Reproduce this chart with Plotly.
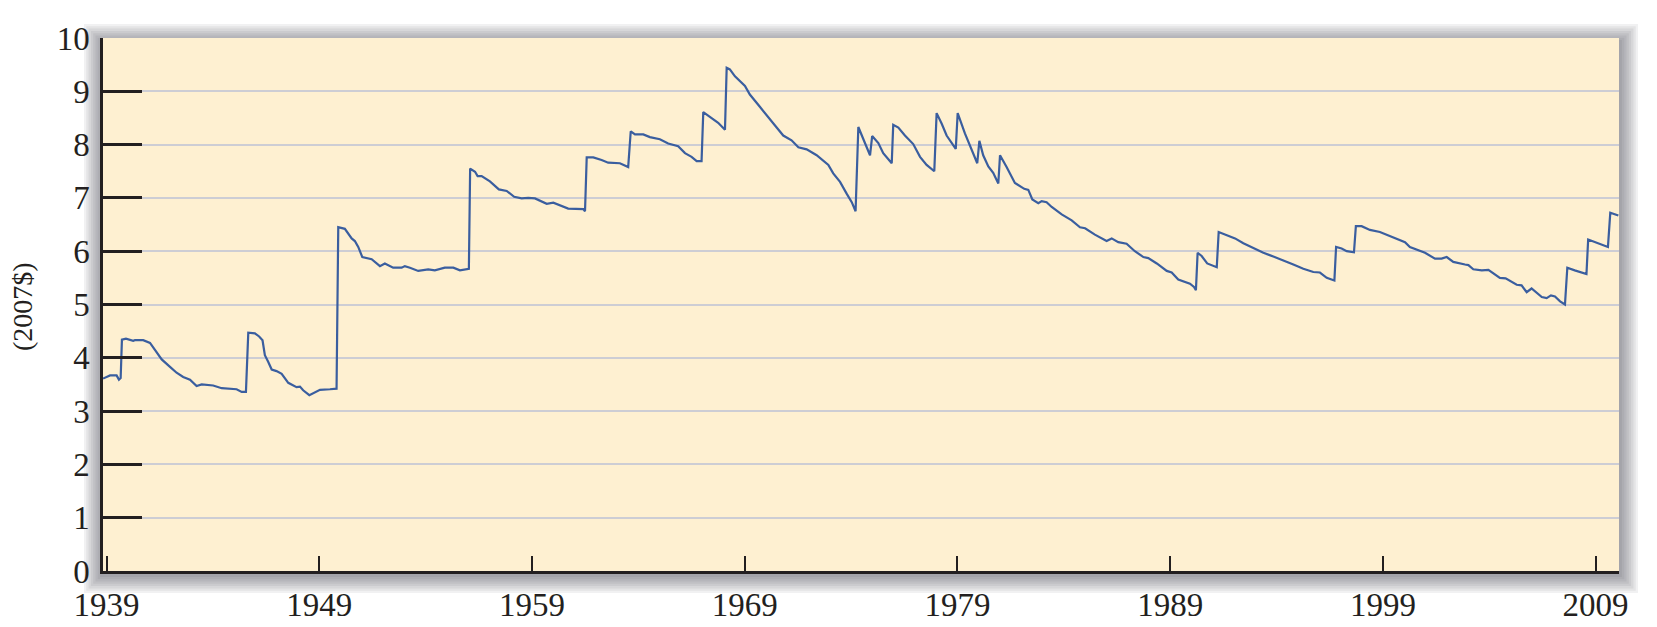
import plotly.graph_objects as go

years = [
    1938.83, 1939.16, 1939.47, 1939.58, 1939.66, 1939.72, 1939.91, 1940.25, 1940.33, 1940.72,
    1941.04, 1941.27, 1941.59, 1941.98, 1942.29, 1942.60, 1942.92, 1943.23, 1943.47, 1944.01,
    1944.41, 1945.11, 1945.35, 1945.55, 1945.66, 1945.97, 1946.17, 1946.33, 1946.44, 1946.60,
    1946.76, 1946.99, 1947.23, 1947.54, 1947.93, 1948.09, 1948.24, 1948.53, 1949.03, 1949.50,
    1949.81, 1949.89, 1950.20, 1950.52, 1950.67, 1950.83, 1951.02, 1951.46, 1951.85, 1952.08,
    1952.32, 1952.47, 1952.87, 1953.02, 1953.26, 1953.65, 1954.12, 1954.43, 1954.90, 1955.30,
    1955.61, 1955.85, 1956.03, 1956.09, 1956.32, 1956.44, 1956.63, 1957.02, 1957.44, 1957.81,
    1958.16, 1958.51, 1958.82, 1959.14, 1959.69, 1960.00, 1960.39, 1960.70, 1961.41, 1961.49,
    1961.57, 1961.88, 1962.27, 1962.58, 1963.13, 1963.52, 1963.64, 1963.84, 1964.23, 1964.54,
    1965.01, 1965.40, 1965.87, 1966.19, 1966.50, 1966.74, 1966.97, 1967.05, 1967.36, 1967.75,
    1968.07, 1968.15, 1968.30, 1968.54, 1969.01, 1969.24, 1969.71, 1970.19, 1970.50, 1970.81,
    1971.20, 1971.52, 1971.91, 1972.38, 1972.93, 1973.16, 1973.48, 1973.79, 1974.03, 1974.21,
    1974.34, 1974.65, 1974.89, 1974.99, 1975.28, 1975.51, 1975.91, 1975.98, 1976.22, 1976.53,
    1976.92, 1977.24, 1977.55, 1977.91, 1978.02, 1978.26, 1978.49, 1978.92, 1979.01, 1979.35,
    1979.67, 1979.93, 1980.03, 1980.21, 1980.45, 1980.68, 1980.92, 1981.00, 1981.31, 1981.70,
    1982.14, 1982.33, 1982.52, 1982.80, 1982.96, 1983.19, 1983.43, 1983.90, 1984.37, 1984.76,
    1985.00, 1985.46, 1986.01, 1986.25, 1986.56, 1986.95, 1987.34, 1987.74, 1987.97, 1988.37,
    1988.84, 1989.07, 1989.38, 1989.62, 1989.93, 1990.12, 1990.21, 1990.29, 1990.48, 1990.74,
    1990.95, 1991.19, 1991.28, 1991.66, 1992.05, 1992.44, 1992.91, 1993.38, 1993.85, 1994.32,
    1994.79, 1995.26, 1995.73, 1996.04, 1996.36, 1996.72, 1996.80, 1997.06, 1997.30, 1997.64,
    1997.73, 1998.00, 1998.39, 1998.86, 1999.33, 1999.72, 2000.04, 2000.27, 2000.59, 2000.98,
    2001.45, 2001.76, 2002.00, 2002.31, 2002.86, 2003.02, 2003.25, 2003.65, 2003.96, 2004.19,
    2004.50, 2004.77, 2004.97, 2005.29, 2005.52, 2005.76, 2005.99, 2006.23, 2006.47, 2006.70,
    2006.90, 2007.09, 2007.33, 2007.56, 2007.67, 2008.02, 2008.57, 2008.65, 2009.11, 2009.58,
    2009.69, 2010.07,
]
wage = [
    3.61, 3.67, 3.67, 3.59, 3.62, 4.34, 4.36, 4.32, 4.33, 4.33,
    4.28, 4.15, 3.97, 3.83, 3.72, 3.64, 3.59, 3.47, 3.50, 3.48,
    3.43, 3.41, 3.36, 3.36, 4.47, 4.46, 4.40, 4.33, 4.05, 3.92,
    3.78, 3.75, 3.70, 3.53, 3.45, 3.46, 3.39, 3.30, 3.40, 3.41,
    3.42, 6.45, 6.42, 6.24, 6.19, 6.08, 5.89, 5.85, 5.72, 5.77,
    5.73, 5.69, 5.69, 5.72, 5.69, 5.63, 5.66, 5.64, 5.69, 5.69,
    5.64, 5.66, 5.67, 7.55, 7.49, 7.41, 7.41, 7.31, 7.16, 7.13,
    7.02, 6.99, 7.00, 6.99, 6.89, 6.91, 6.85, 6.80, 6.79, 6.75,
    7.76, 7.76, 7.71, 7.66, 7.65, 7.58, 8.25, 8.19, 8.19, 8.14,
    8.10, 8.02, 7.97, 7.84, 7.77, 7.69, 7.69, 8.61, 8.52, 8.41,
    8.28, 9.44, 9.41, 9.28, 9.10, 8.94, 8.71, 8.46, 8.32, 8.17,
    8.08, 7.95, 7.91, 7.80, 7.62, 7.46, 7.30, 7.08, 6.92, 6.75,
    8.33, 8.03, 7.80, 8.16, 8.03, 7.84, 7.65, 8.37, 8.32, 8.17,
    8.01, 7.77, 7.62, 7.50, 8.59, 8.39, 8.17, 7.92, 8.59, 8.21,
    7.89, 7.65, 8.07, 7.80, 7.59, 7.47, 7.27, 7.80, 7.58, 7.28,
    7.17, 7.15, 6.97, 6.90, 6.94, 6.92, 6.83, 6.69, 6.58, 6.45,
    6.43, 6.31, 6.19, 6.24, 6.17, 6.14, 6.00, 5.89, 5.87, 5.77,
    5.63, 5.60, 5.47, 5.44, 5.39, 5.33, 5.27, 5.97, 5.91, 5.77,
    5.74, 5.70, 6.36, 6.30, 6.24, 6.15, 6.06, 5.97, 5.90, 5.83,
    5.75, 5.67, 5.61, 5.60, 5.50, 5.45, 6.08, 6.05, 6.00, 5.98,
    6.47, 6.47, 6.40, 6.36, 6.28, 6.22, 6.17, 6.08, 6.03, 5.97,
    5.86, 5.86, 5.89, 5.80, 5.75, 5.74, 5.66, 5.64, 5.65, 5.58,
    5.50, 5.49, 5.45, 5.37, 5.36, 5.23, 5.30, 5.22, 5.14, 5.12,
    5.17, 5.15, 5.06, 5.00, 5.69, 5.64, 5.57, 6.22, 6.15, 6.08,
    6.72, 6.67,
]
x_ticks = [1939, 1949, 1959, 1969, 1979, 1989, 1999, 2009]
y_ticks = [0, 1, 2, 3, 4, 5, 6, 7, 8, 9, 10]
y_title = "(2007$)"

# page body has an 8px default margin, so the figure is drawn 8px in
W, H = 1649, 619
L, R, T, B = 95, 38, 30, 56
PW, PH = W - L - R, H - T - B
BG = "#FEF0D1"

def px(xp):
    return (xp - L) / PW

def py(yp):
    return (H - B - yp) / PH

fig = go.Figure()
fig.add_trace(go.Scatter(
    x=years, y=wage, mode="lines",
    line=dict(color="#3A5E9F", width=2.2),
    hoverinfo="skip", showlegend=False,
))

# soft drop shadow around the plot frame, then the plot fill on top
shapes = []
for i in range(8):
    e = 19 - i * 2.3
    shapes.append(dict(
        type="rect", xref="paper", yref="paper", layer="below",
        x0=px(L - e), x1=px(L + PW + e), y0=py(H - B + e + 3), y1=py(T - e + 5),
        fillcolor="rgba(60,60,70,0.07)", line=dict(width=0),
    ))
shapes.append(dict(
    type="rect", xref="paper", yref="paper", layer="below",
    x0=0, x1=1, y0=0, y1=1, fillcolor=BG, line=dict(width=0),
))

fig.update_layout(
    width=W, height=H,
    margin=dict(l=L, r=R, t=T, b=B, pad=0),
    paper_bgcolor="white",
    plot_bgcolor=BG,
    shapes=shapes,
    font=dict(family="Liberation Serif, Times New Roman, serif", size=33, color="#231F20"),
    xaxis=dict(
        range=[1938.83, 2010.1], tickvals=x_ticks, ticktext=[str(v) for v in x_ticks],
        showgrid=False, zeroline=False, automargin=False,
        showline=True, linecolor="#231F20", linewidth=2.5,
        ticks="inside", ticklen=15, tickwidth=2, tickcolor="#231F20",
        ticklabelstandoff=3,
    ),
    yaxis=dict(
        range=[0, 10], tickvals=y_ticks, ticktext=[str(v) for v in y_ticks],
        showgrid=True, gridcolor="#CDCDD4", gridwidth=2, zeroline=False, automargin=False,
        showline=True, linecolor="#231F20", linewidth=2.5,
        ticks="inside", ticklen=39, tickwidth=2.5, tickcolor="#231F20",
        ticklabelstandoff=4,
    ),
    annotations=[dict(
        text=y_title, xref="paper", yref="paper", x=px(14), y=py(299),
        showarrow=False, textangle=-90, xanchor="center", yanchor="middle",
        font=dict(family="Liberation Serif, Times New Roman, serif", size=28, color="#231F20"),
    )],
)

fig.write_html("out.html")
